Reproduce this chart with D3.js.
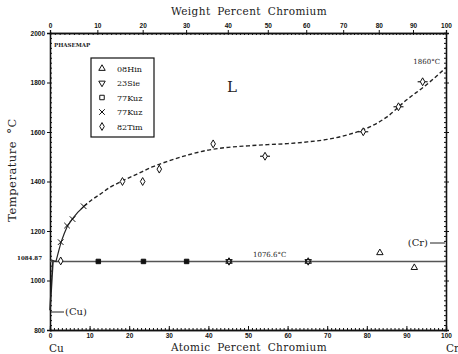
<!DOCTYPE html>
<html>
<head>
<meta charset="utf-8">
<script src="https://cdn.jsdelivr.net/npm/d3@7"></script>
<style>
  body { margin: 0; background: #fff; }
  svg { display: block; font-family: "DejaVu Serif", serif; }
  .axis path, .axis line { stroke: #111; }
  .axis text { font-size: 6.5px; fill: #111; }
</style>
</head>
<body>
<svg id="chart" width="458" height="354"></svg>
<script>
// values (at.% Cr, deg C)
const atTicks = [0, 10, 20, 30, 40, 50, 60, 70, 80, 90, 100];
const wtTicks = [0, 10, 20, 30, 40, 50, 60, 70, 80, 90, 100];
const tempTicks = [800, 1000, 1200, 1400, 1600, 1800, 2000];

const liquidusSolid = [[0, 1084.87], [1.5, 1076.6], [2.2, 1120], [2.8, 1155], [3.6, 1190], [4.4, 1220], [5.7, 1250], [7, 1275], [8.6, 1300]];
const liquidusDash = [[8.6, 1300], [10.5, 1325], [12.6, 1348], [15.2, 1377], [18, 1400], [22, 1430], [26, 1460], [30, 1483], [35, 1508], [40, 1527], [45, 1538], [50, 1544], [55, 1549], [60, 1553], [65, 1560], [70, 1570], [75, 1588], [80, 1615], [85, 1660], [90, 1729], [95, 1790], [100, 1860]];
const cuSolvus = [[0.75, 1076.6], [0.6, 1040], [0.45, 1000], [0.3, 960], [0.15, 920], [0, 880]];
const eutectic = [[0, 1076.6], [100, 1076.6]];

const hin08 = [[45.2, 1077], [65.2, 1077], [83.3, 1112], [92.0, 1052]];
const sie23 = [[45.2, 1077], [65.2, 1077]];
const kuzSq = [[12.2, 1077], [23.6, 1077], [34.5, 1077]];
const kuzX = [[2.7, 1155], [4.3, 1222], [5.7, 1248], [8.5, 1300]];
const tim82 = [[2.7, 1079], [18.3, 1400], [23.4, 1400], [27.6, 1450], [41.2, 1552]];
const tim82Bar = [[54.3, 1502], [79.1, 1601], [88.0, 1702], [94.1, 1803]];

const legendNames = ['08Hin', '23Sie', '77Kuz', '77Kuz', '82Tim'];

const svg = d3.select('#chart');
const x = d3.scaleLinear().domain([0, 100]).range([50, 446]);
const y = d3.scaleLinear().domain([800, 2000]).range([330, 33]);

// weight percent -> atomic percent (Cr 51.996, Cu 63.546)
function wtToAt(w) {
  const a = w / 51.996, b = (100 - w) / 63.546;
  return 100 * a / (a + b);
}
const wtFine = d3.range(0, 101, 1);
const xw = d3.scaleLinear().domain(wtFine).range(wtFine.map(w => x(wtToAt(w))));

// minor ticks
svg.append('g').attr('class', 'axis').attr('transform', 'translate(0,330)')
  .call(d3.axisBottom(x).tickValues(d3.range(0, 101, 1)).tickSize(-2).tickFormat(''));
svg.append('g').attr('class', 'axis').attr('transform', 'translate(0,33)')
  .call(d3.axisTop(xw).tickValues(d3.range(0, 101, 1)).tickSize(-2).tickFormat(''));
svg.append('g').attr('class', 'axis').attr('transform', 'translate(50,0)')
  .call(d3.axisLeft(y).tickValues(d3.range(800, 2001, 20)).tickSize(-2).tickFormat(''));
svg.append('g').attr('class', 'axis').attr('transform', 'translate(446,0)')
  .call(d3.axisRight(y).tickValues(d3.range(800, 2001, 20)).tickSize(-2).tickFormat(''));

// major ticks
svg.append('g').attr('class', 'axis').attr('transform', 'translate(0,330)')
  .call(d3.axisBottom(x).tickValues(atTicks).tickSize(-4).tickPadding(3).tickFormat(d3.format('d')));
svg.append('g').attr('class', 'axis').attr('transform', 'translate(0,33)')
  .call(d3.axisTop(xw).tickValues(wtTicks).tickSize(3).tickPadding(2).tickFormat(d3.format('d')));
svg.append('g').attr('class', 'axis').attr('transform', 'translate(50,0)')
  .call(d3.axisLeft(y).tickValues(tempTicks).tickSize(3).tickPadding(2).tickFormat(d3.format('d')));
svg.append('g').attr('class', 'axis').attr('transform', 'translate(446,0)')
  .call(d3.axisRight(y).tickValues(tempTicks).tickSize(3).tickFormat(''));

svg.selectAll('.axis .domain').attr('stroke-width', 1.3);
svg.selectAll('.axis text').attr('font-weight', 'bold');

// extra tick label for Cu melting point
svg.append('text').attr('x', 42).attr('y', y(1084.87) + 1)
  .attr('text-anchor', 'end').attr('font-size', 5.5).attr('font-weight', 'bold')
  .attr('fill', '#111').text('1084.87');

// phase boundaries
const line = d3.line().x(d => x(d[0])).y(d => y(d[1]));
const curve = d3.line().x(d => x(d[0])).y(d => y(d[1])).curve(d3.curveMonotoneX);

svg.append('path').datum(eutectic).attr('d', line)
  .attr('fill', 'none').attr('stroke', '#555').attr('stroke-width', 1.6);
svg.append('path').datum(cuSolvus).attr('d', line)
  .attr('fill', 'none').attr('stroke', '#222').attr('stroke-width', 1.6);
svg.append('path').datum(liquidusSolid).attr('d', line)
  .attr('fill', 'none').attr('stroke', '#222').attr('stroke-width', 1.2);
svg.append('path').datum(liquidusDash).attr('d', curve)
  .attr('fill', 'none').attr('stroke', '#222').attr('stroke-width', 1.4)
  .attr('stroke-dasharray', '4,2.5');

// markers
const triUp = d3.symbol().type(d3.symbolTriangle).size(18);
const sq = d3.symbol().type(d3.symbolSquare).size(20);
const xs = d3.symbol().type(d3.symbolTimes || d3.symbolX).size(22);
const dia = d3.symbol().type(d3.symbolDiamond).size(18);

function marks(data, sym, rot, fill) {
  svg.append('g').selectAll('path').data(data).enter().append('path')
    .attr('d', sym)
    .attr('transform', d => 'translate(' + [x(d[0]), y(d[1])] + ') rotate(' + rot + ')')
    .attr('fill', fill).attr('stroke', '#111').attr('stroke-width', 1);
}
marks(hin08, triUp, 0, 'none');
marks(sie23, triUp, 180, 'none');
marks(kuzSq, sq, 0, '#111');
marks(kuzX, xs, 0, 'none');

svg.append('g').selectAll('line').data(tim82Bar).enter().append('line')
  .attr('x1', d => x(d[0]) - 5).attr('x2', d => x(d[0]) + 5)
  .attr('y1', d => y(d[1])).attr('y2', d => y(d[1]))
  .attr('stroke', '#222').attr('stroke-width', 1.2);
marks(tim82, dia, 0, '#fff');
marks(tim82Bar, dia, 0, '#fff');

// legend
const legend = svg.append('g');
legend.append('rect').attr('x', 91).attr('y', 58).attr('width', 63).attr('height', 79)
  .attr('fill', '#fff').attr('stroke', '#111').attr('stroke-width', 1.2);
const legSyms = [[triUp, 0], [triUp, 180], [sq, 0], [xs, 0], [dia, 0]];
legendNames.forEach(function(name, i) {
  const ly = 68.5 + i * 14.5;
  legend.append('path').attr('d', legSyms[i][0])
    .attr('transform', 'translate(102,' + ly + ') rotate(' + legSyms[i][1] + ')')
    .attr('fill', 'none').attr('stroke', '#111').attr('stroke-width', 1);
  legend.append('text').attr('x', 117).attr('y', ly + 3)
    .attr('font-size', 8).attr('fill', '#111').text(name);
});

// labels
svg.append('text').attr('x', 249).attr('y', 15).attr('text-anchor', 'middle')
  .attr('font-size', 10.5).attr('letter-spacing', 0.4).attr('fill', '#222')
  .attr('word-spacing', 3).text('Weight Percent Chromium');
svg.append('text').attr('x', 249).attr('y', 351).attr('text-anchor', 'middle')
  .attr('font-size', 10.5).attr('letter-spacing', 0.4).attr('fill', '#222')
  .attr('word-spacing', 3).text('Atomic Percent Chromium');
svg.append('text').attr('x', 49).attr('y', 352).attr('font-size', 10.5).attr('fill', '#222').text('Cu');
svg.append('text').attr('x', 446).attr('y', 352).attr('font-size', 10.5).attr('fill', '#222').text('Cr');
svg.append('text').attr('transform', 'translate(16,170) rotate(-90)').attr('text-anchor', 'middle')
  .attr('font-size', 11.5).attr('letter-spacing', 0.5).attr('fill', '#222')
  .attr('word-spacing', 3).text('Temperature °C');
svg.append('text').attr('x', 54).attr('y', 47).attr('font-size', 5.5).attr('font-weight', 'bold')
  .attr('fill', '#222').text('PHASEMAP');
svg.append('text').attr('x', 232).attr('y', 92).attr('text-anchor', 'middle')
  .attr('font-size', 15).attr('fill', '#222').text('L');
svg.append('text').attr('x', 440).attr('y', 64).attr('text-anchor', 'end')
  .attr('font-size', 7).attr('fill', '#222').text('1860°C');
svg.append('text').attr('x', 253).attr('y', 257)
  .attr('font-size', 7).attr('fill', '#222').text('1076.6°C');

// phase labels with arrows
svg.append('line').attr('x1', 51).attr('x2', 64).attr('y1', 312).attr('y2', 312)
  .attr('stroke', '#222').attr('stroke-width', 1);
svg.append('text').attr('x', 65).attr('y', 315).attr('font-size', 10).attr('fill', '#222').text('(Cu)');
svg.append('line').attr('x1', 430).attr('x2', 445).attr('y1', 243).attr('y2', 243)
  .attr('stroke', '#222').attr('stroke-width', 1);
svg.append('text').attr('x', 428).attr('y', 246).attr('text-anchor', 'end')
  .attr('font-size', 10).attr('fill', '#222').text('(Cr)');
</script>
</body>
</html>
